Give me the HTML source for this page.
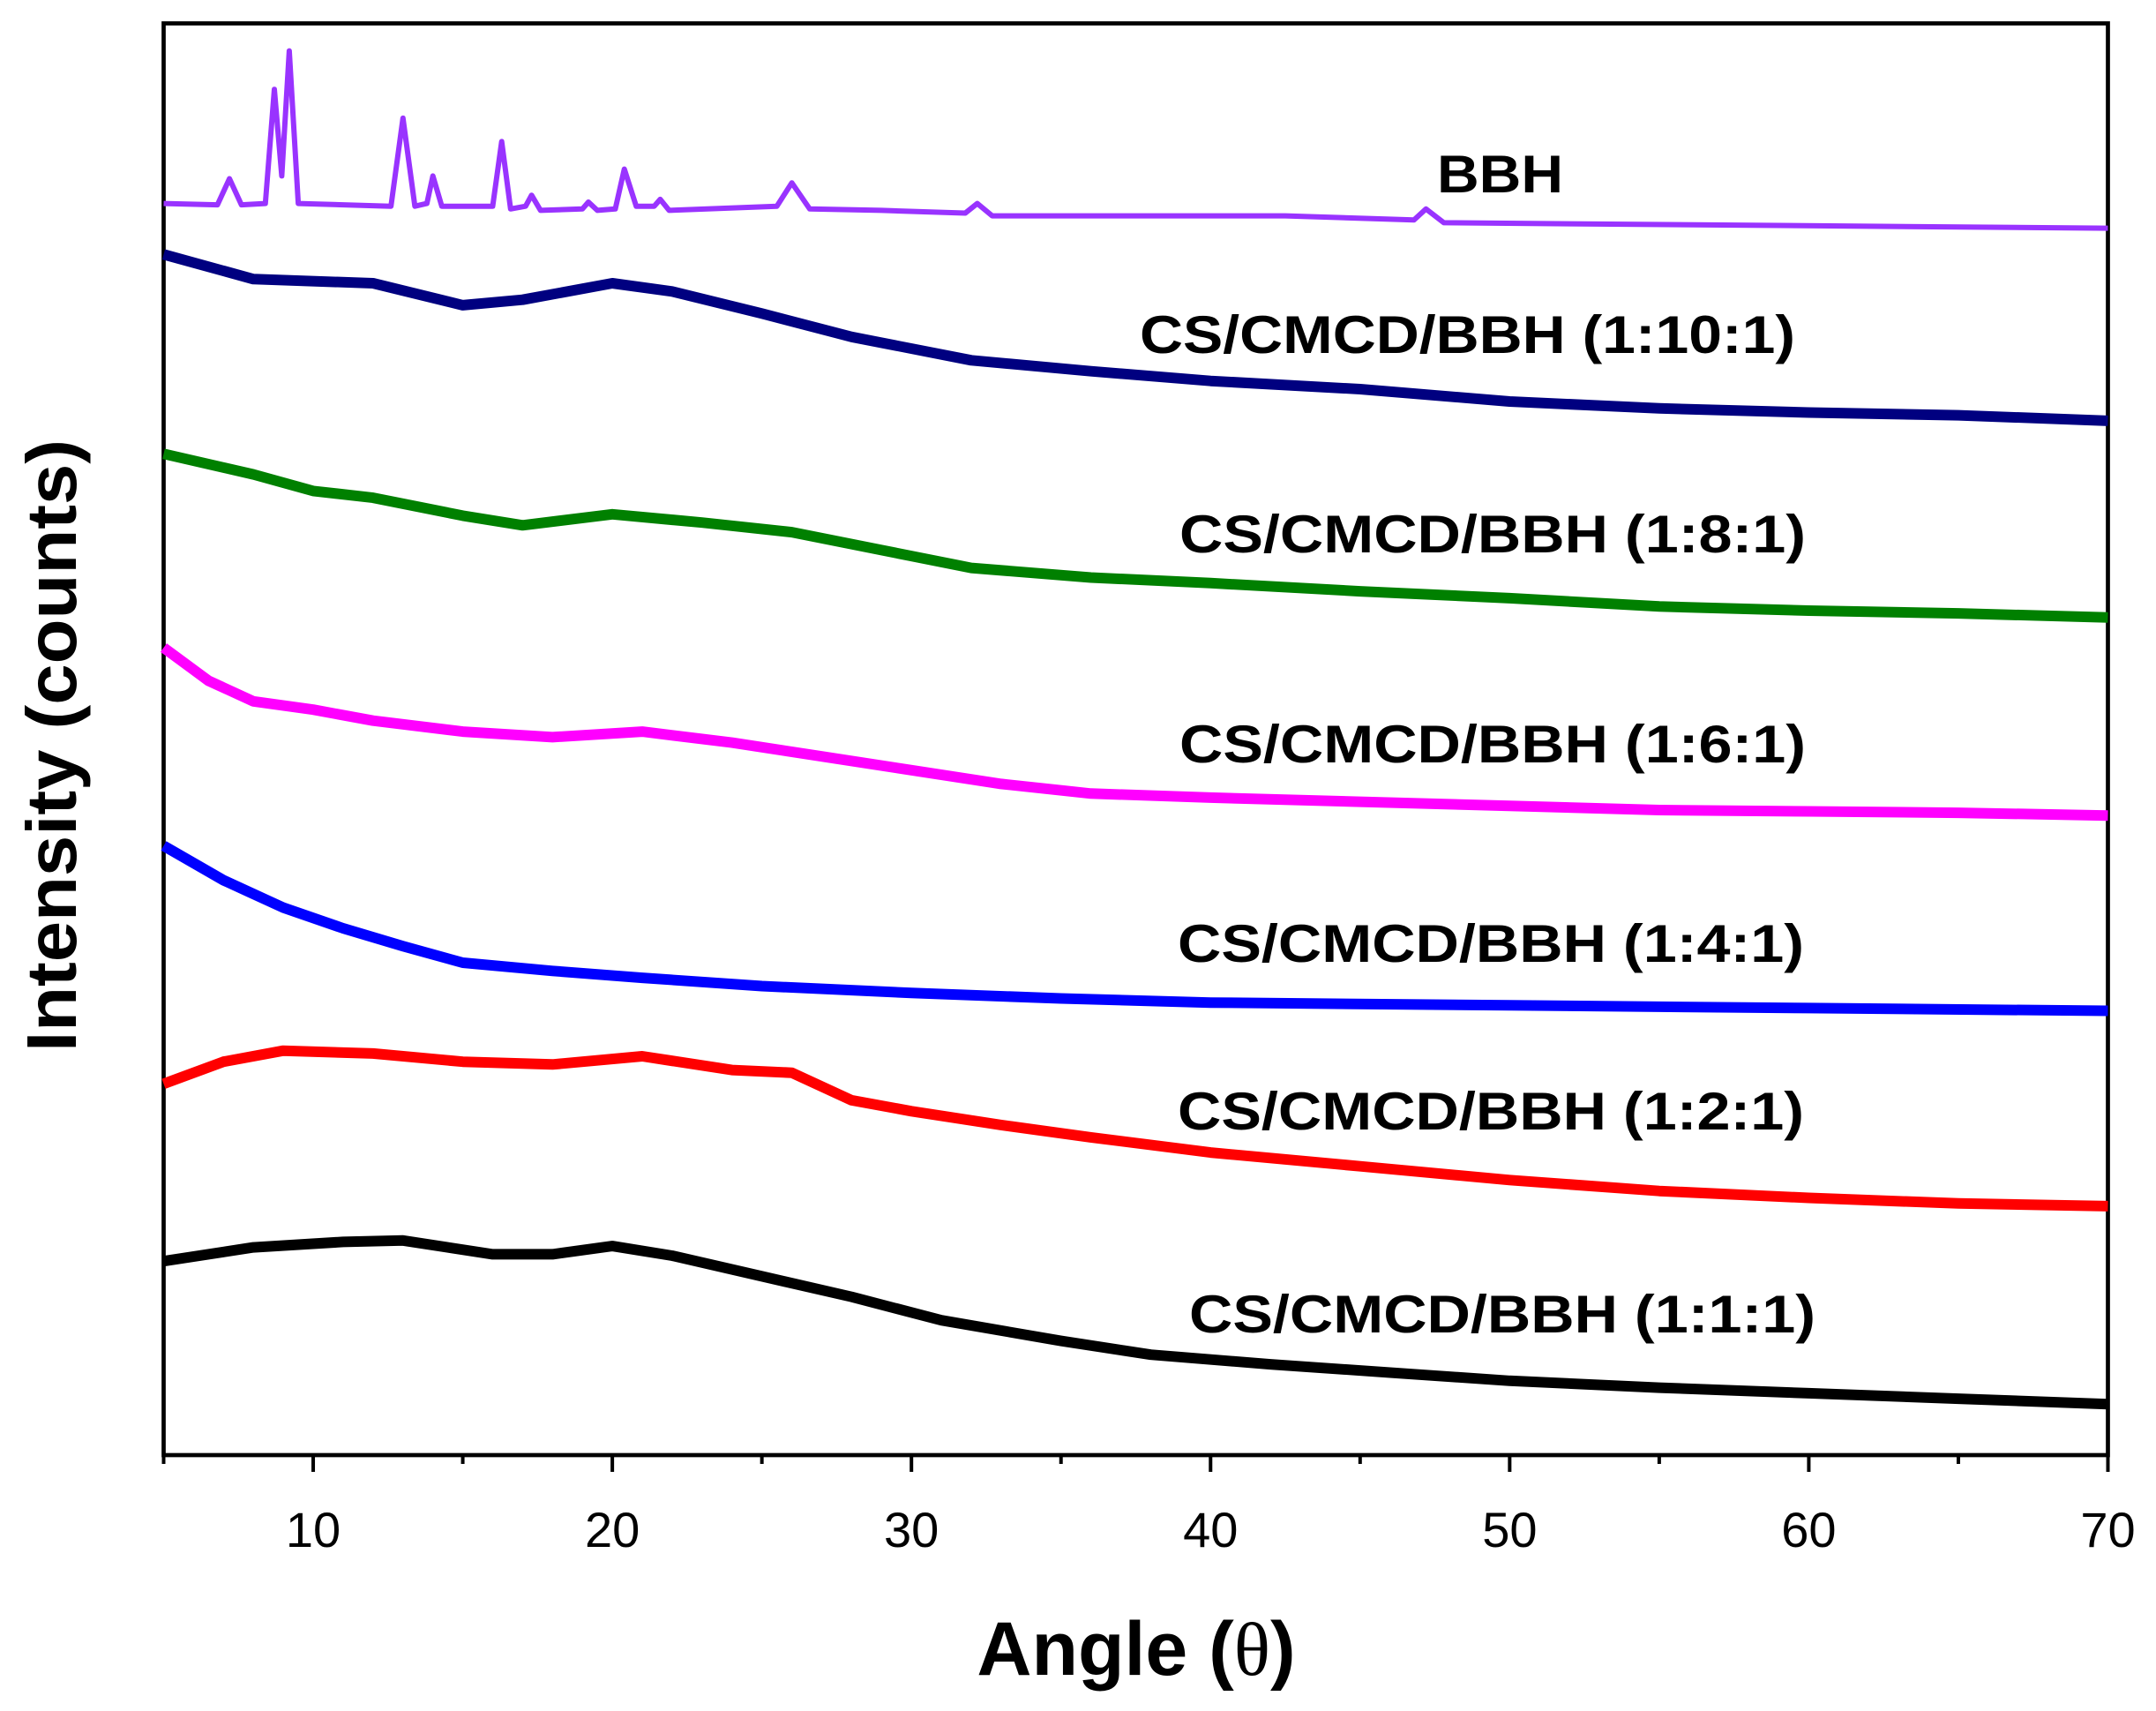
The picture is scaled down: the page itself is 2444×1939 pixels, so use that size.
<!DOCTYPE html>
<html><head><meta charset="utf-8"><style>
html,body{margin:0;padding:0;background:#fff;}
svg{display:block;font-family:"Liberation Sans",Arial,sans-serif;}
</style></head><body>
<svg id="chart" width="2444" height="1939" viewBox="0 0 2444 1939">
<rect x="185.5" y="26.5" width="2204" height="1622.5" fill="none" stroke="#000" stroke-width="4.7"/>
<g id="ticks"></g>
<g id="series"></g>
<g id="labels"></g>
<text x="1288" y="1898" font-size="86" font-weight="bold" text-anchor="middle">Angle (<tspan font-family="Liberation Serif,serif" font-weight="normal">θ</tspan>)</text>
<text transform="translate(86,845) rotate(-90)" font-size="80" font-weight="bold" text-anchor="middle" textLength="694" lengthAdjust="spacingAndGlyphs">Intensity (counts)</text>
</svg>
<script>
const majorTicks=[10,20,30,40,50,60,70];
const minorTicks=[5,15,25,35,45,55,65];
const seriesNames=["BBH","CS/CMCD/BBH (1:10:1)","CS/CMCD/BBH (1:8:1)","CS/CMCD/BBH (1:6:1)","CS/CMCD/BBH (1:4:1)","CS/CMCD/BBH (1:2:1)","CS/CMCD/BBH (1:1:1)"];
const bbhAngle=[5,6.8,7.2,7.6,8.4,8.7,8.95,9.2,9.5,12.6,13,13.4,13.8,14,14.3,16,16.3,16.6,17.1,17.3,17.6,19,19.2,19.5,20.1,20.4,20.8,21.4,21.6,21.9,25.5,26,26.6,29,31.8,32.2,32.7,42.5,46.8,47.2,47.8,70];
const bbhCounts=[910,909,928,909,910,993,930,1021,910,908,972,908,910,930,908,908,955,906,908,916,905,906,911,905,906,935,908,908,913,905,908,925,906,905,903,910,901,901,898,906,896,892];
const angle=[5,8,12,15,17,20,22,25,28,32,36,40,45,50,55,60,65,70];
const s1101=[873,855,852,836,840,852,846,830,813,796,788,781,775,766,761,758,756,752];
const angle8=[5,8,10,12,15,17,20,23,26,29,32,36,40,45,50,55,60,65,70];
const s181=[728,713,701,696,683,676,684,678,671,658,645,638,634,628,623,617,614,612,609];
const angle6=[5,6.5,8,10,12,15,18,21,24,27,30,33,36,40,45,50,55,60,65,70];
const s161=[587,563,548,542,534,526,522,526,518,508,498,488,481,478,475,472,469,468,467,465];
const angle4=[5,7,9,11,13,15,18,21,25,30,35,40,50,60,70];
const s141=[443,418,398,383,370,358,352,347,341,336,332,329,327,325,323];
const angle2=[5,7,9,12,15,18,21,24,26,28,30,33,36,40,45,50,55,60,65,70];
const s121=[270,286,294,292,286,284,290,280,278,258,250,240,231,220,210,200,192,187,183,181];
const angle1=[5,8,11,13,16,18,20,22,25,28,31,35,38,42,46,50,55,60,65,70];
const s111=[141,151,155,156,146,146,152,145,130,115,98,83,73,66,60,54,49,45,41,37];

const NS="http://www.w3.org/2000/svg";
function X(a){return 185.5+(a-5)/65*2204;}
function Y(v){return 1649-v*1.5587;}
const tg=document.getElementById('ticks');
majorTicks.forEach(t=>{
 const l=document.createElementNS(NS,'line');
 l.setAttribute('x1',X(t));l.setAttribute('x2',X(t));l.setAttribute('y1',1649);l.setAttribute('y2',1668);
 l.setAttribute('stroke','#000');l.setAttribute('stroke-width',4);
 
 
 tg.appendChild(l);
 const tx=document.createElementNS(NS,'text');
 tx.setAttribute('x',X(t));tx.setAttribute('y',1753);tx.setAttribute('font-size',56);tx.setAttribute('text-anchor','middle');
 tx.textContent=t;
 
 
 tg.appendChild(tx);
});
minorTicks.forEach(t=>{
 const l=document.createElementNS(NS,'line');
 l.setAttribute('x1',X(t));l.setAttribute('x2',X(t));l.setAttribute('y1',1649);l.setAttribute('y2',1659);
 l.setAttribute('stroke','#000');l.setAttribute('stroke-width',4);
 
 
 tg.appendChild(l);
});
const defs=[
 [bbhAngle,bbhCounts,'#9933ff',6,'series-bbh'],
 [angle,s1101,'#000080',12,'series-1-10-1'],
 [angle8,s181,'#008000',12,'series-1-8-1'],
 [angle6,s161,'#ff00ff',12,'series-1-6-1'],
 [angle4,s141,'#0000ff',12,'series-1-4-1'],
 [angle2,s121,'#ff0000',12,'series-1-2-1'],
 [angle1,s111,'#000000',12,'series-1-1-1']
];
const sg=document.getElementById('series');
defs.forEach(d=>{
 const p=document.createElementNS(NS,'path');
 p.setAttribute('d',d[0].map((a,i)=>(i?'L':'M')+X(a).toFixed(1)+' '+Y(d[1][i]).toFixed(1)).join(''));
 p.setAttribute('fill','none');p.setAttribute('stroke',d[2]);p.setAttribute('stroke-width',d[3]);p.setAttribute('stroke-linejoin','round');
 
 
 sg.appendChild(p);
});
const labelPos=[[1629,218,143],[1292,400,743],[1337,626,710],[1337,864,710],[1335,1090,710],[1335,1280,710],[1348,1510,710]];
const lg=document.getElementById('labels');
seriesNames.forEach((n,i)=>{
 const t=document.createElementNS(NS,'text');
 t.setAttribute('x',labelPos[i][0]);t.setAttribute('y',labelPos[i][1]);
 t.setAttribute('font-size',60);t.setAttribute('font-weight','bold');
 t.setAttribute('textLength',labelPos[i][2]);t.setAttribute('lengthAdjust','spacingAndGlyphs');
 t.textContent=n;
 
 
 lg.appendChild(t);
});
</script>
</body></html>
